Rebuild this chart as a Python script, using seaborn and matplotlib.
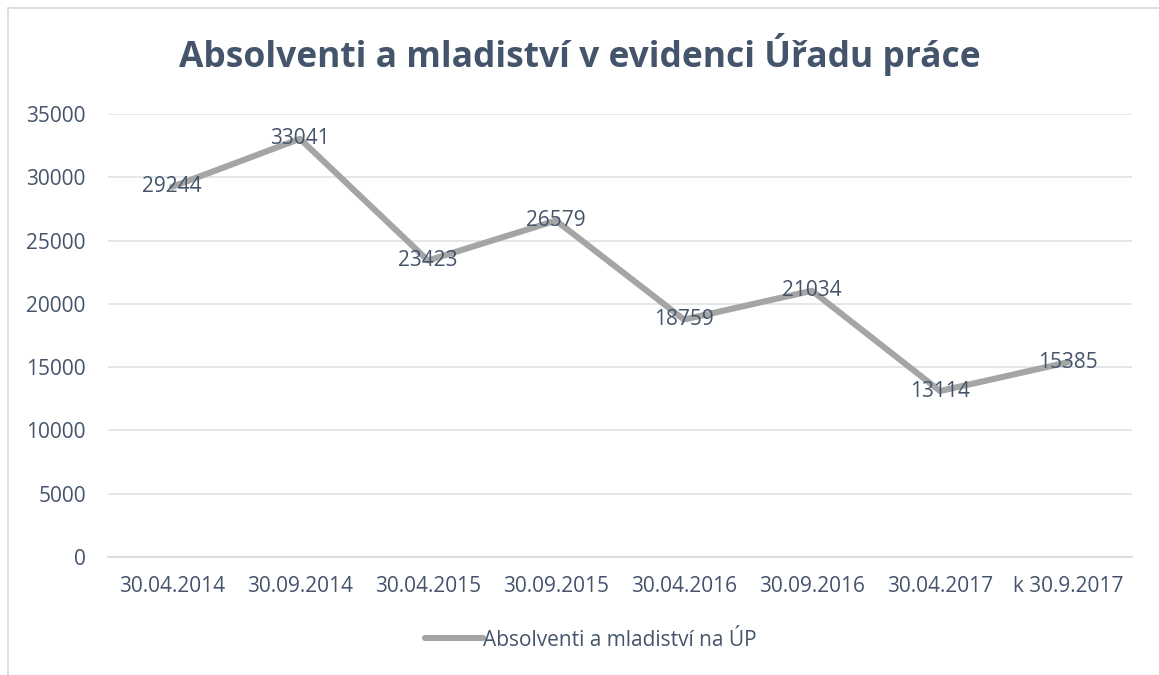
import matplotlib
matplotlib.use("Agg")
import matplotlib.pyplot as plt
from matplotlib.lines import Line2D
import seaborn as sns
import pandas as pd
import numpy as np

categories = ["30.04.2014", "30.09.2014", "30.04.2015", "30.09.2015",
              "30.04.2016", "30.09.2016", "30.04.2017", "k 30.9.2017"]
values = [29244, 33041, 23423, 26579, 18759, 21034, 13114, 15385]
y_ticks = [0, 5000, 10000, 15000, 20000, 25000, 30000, 35000]
series_name = "Absolventi a mladiství na ÚP"
title = "Absolventi a mladiství v evidenci Úřadu práce"

sns.set_theme(style="white")
plt.rcParams['font.family'] = ['Open Sans', 'DejaVu Sans']

TXT = "#44546A"
FS = 15
W, H = 1159, 675
fig = plt.figure(figsize=(W / 100, H / 100), dpi=100)
ax = fig.add_axes([108 / W, 1 - 557 / H, (1132 - 108) / W, (557 - 114) / H])

df = pd.DataFrame({"pos": np.arange(len(categories)), "value": values, "series": series_name})
sns.lineplot(data=df, x="pos", y="value", ax=ax, color="#A5A5A5", linewidth=4.4,
             legend=False, solid_capstyle="round", solid_joinstyle="round")

for x, v in zip(df["pos"], df["value"]):
    ax.text(x, v, str(v), ha="center", va="center", fontsize=FS, color=TXT, zorder=5)

ax.set_xlim(-0.5, len(categories) - 0.5)
ax.set_ylim(0, 35000)
ax.set_yticks(y_ticks)
ax.set_yticklabels([str(t) for t in y_ticks], fontsize=FS, color=TXT)
ax.set_xticks(np.arange(len(categories)))
ax.set_xticklabels(categories, fontsize=FS, color=TXT)
ax.set_xticks(np.arange(len(categories) + 1) - 0.5, minor=True)
ax.tick_params(axis="x", which="major", length=0, pad=14)
ax.tick_params(axis="x", which="minor", length=7, color="#D9DDE3", width=1.3)
ax.tick_params(axis="y", length=0, pad=16)
ax.set_xlabel("")
ax.set_ylabel("")
ax.grid(axis="y", color="#E1E5EA", linewidth=1.3)
ax.set_axisbelow(True)
for s in ["top", "right", "left"]:
    ax.spines[s].set_visible(False)
ax.spines["bottom"].set_color("#D9DDE3")
ax.spines["bottom"].set_linewidth(1.3)

fig.text(0.5, 1 - 55 / H, title, ha="center", va="center", fontsize=25.5,
         fontweight="bold", color=TXT)

# legend
handle = Line2D([], [], color="#A5A5A5", linewidth=4.4, solid_capstyle="round")
fig.legend([handle], [series_name], loc="center", bbox_to_anchor=(0.51, 1 - 640 / H),
           frameon=False, fontsize=FS, labelcolor=TXT, handlelength=2.8,
           handletextpad=0.0, borderaxespad=0)

# chart border (only top and left visible in reference)
fig.add_artist(Line2D([8 / W, 1.0], [1 - 8 / H, 1 - 8 / H], transform=fig.transFigure,
                      color="#D9DDE3", linewidth=1.3))
fig.add_artist(Line2D([8 / W, 8 / W], [0.0, 1 - 8 / H], transform=fig.transFigure,
                      color="#D9DDE3", linewidth=1.3))

fig.savefig("out.png", dpi=100, facecolor="white")
